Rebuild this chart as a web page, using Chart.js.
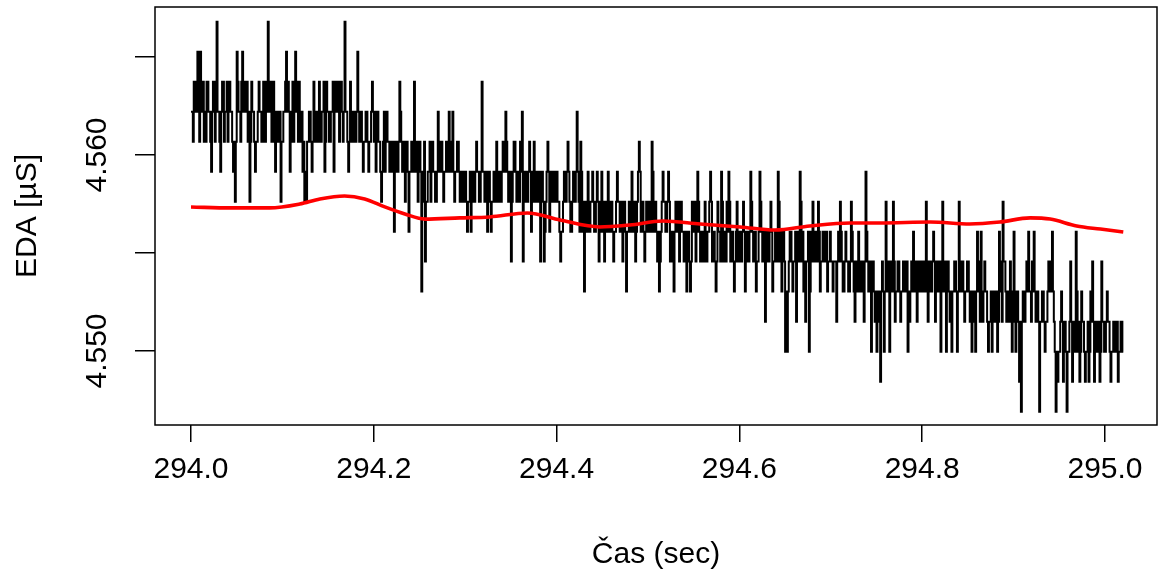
<!DOCTYPE html>
<html>
<head>
<meta charset="utf-8">
<script src="https://cdn.jsdelivr.net/npm/chart.js@4.4.1/dist/chart.umd.min.js"></script>
<style>
  html, body { margin: 0; padding: 0; background: #fff; }
</style>
</head>
<body>
<canvas id="eda" width="1159" height="575"></canvas>
<script>
// raw EDA signal: sampled at 1000 Hz from 294.0 s, values are the quantised sensor levels
const startTime = 294.0;
const sampleStep = 0.001;

// the distinct quantised EDA levels (µS), highest first
const levelValues = [4.56680, 4.56527, 4.56374, 4.56221, 4.56068, 4.55915, 4.55762,
                     4.55609, 4.55456, 4.55303, 4.55149, 4.54996, 4.54843, 4.54690];

// level index of each sample (20 samples per row)
const sampleLevels = [
  3,3,4,2,2,3,3,1,2,4, 1,3,3,2,4,3,4,2,2,3,
  3,4,5,3,2,2,4,3,0,3, 3,4,5,3,2,2,4,3,3,2,
  4,3,2,3,3,4,5,4,6,4, 1,2,3,3,4,2,1,3,2,3,
  3,2,4,3,6,4,2,3,3,4, 5,4,4,3,2,3,3,4,4,2,
  3,4,2,3,0,3,3,2,4,3, 2,4,5,3,3,4,4,3,6,4,
  4,3,3,2,1,3,2,3,5,4, 3,2,4,3,1,2,3,4,2,3,
  4,3,5,4,6,5,6,4,4,3, 3,4,5,4,2,3,4,3,3,4,
  2,3,4,3,3,2,5,4,2,3, 3,4,4,3,3,2,5,3,2,3,
  3,2,4,3,2,3,4,3,0,3, 3,4,5,4,2,3,4,3,3,4,
  4,3,1,3,4,3,3,4,5,4, 4,3,3,4,5,4,4,3,2,3,
  4,3,5,4,3,4,4,5,6,5, 4,3,5,4,3,4,4,5,5,4,
  5,4,7,5,4,5,5,4,2,3, 4,5,5,4,6,5,4,5,7,5,
  5,4,4,5,2,4,5,4,6,5, 4,5,9,6,5,4,8,6,6,5,
  5,4,6,5,4,5,5,6,6,5, 3,4,5,4,4,5,6,5,5,4,
  4,5,3,4,5,4,3,5,6,5, 5,4,4,5,6,5,5,6,6,5,
  5,6,7,6,6,5,7,6,5,6, 6,5,4,5,5,6,6,5,2,5,
  5,6,6,5,7,6,5,6,7,6, 6,5,5,6,4,5,6,5,5,6,
  5,4,4,5,3,4,5,6,6,5, 8,6,5,4,4,5,6,5,5,6,
  4,5,3,8,6,5,5,6,6,5, 4,5,7,6,5,4,6,5,5,6,
  6,5,8,6,5,6,8,7,6,5, 4,5,7,6,5,6,6,5,5,6,
  5,6,6,7,8,7,7,6,5,6, 6,5,4,5,6,7,7,6,5,6,
  6,5,3,5,6,7,4,5,7,6, 9,7,6,7,5,6,7,6,6,5,
  6,7,7,6,5,6,8,7,6,5, 7,6,8,7,6,7,5,6,7,6,
  6,7,8,7,7,6,5,6,6,7, 7,6,8,7,6,7,9,7,7,6,
  6,7,5,6,7,6,8,7,6,5, 4,5,7,6,6,7,8,7,6,7,
  7,6,6,7,4,5,7,6,6,7, 8,7,9,8,7,6,5,6,6,7,
  7,6,5,6,8,7,7,8,9,7, 6,7,7,6,8,7,6,7,7,8,
  8,7,9,8,7,8,9,8,6,7, 7,6,8,7,5,6,7,8,8,7,
  7,8,6,7,8,7,7,6,5,6, 8,7,7,8,9,8,6,7,7,8,
  5,6,8,7,7,8,6,7,5,6, 8,7,7,8,9,8,7,6,8,7,
  7,8,8,7,6,7,9,8,7,8, 8,7,5,6,7,8,8,7,9,8,
  8,7,5,6,7,8,8,7,10,8, 7,8,8,7,6,7,9,8,8,7,
  7,8,5,6,8,7,9,8,7,8, 11,9,11,9,8,7,7,8,9,8,
  8,7,10,8,7,8,5,6,8,7, 9,8,10,8,8,7,11,9,7,8,
  6,7,8,7,7,8,6,7,9,8, 8,7,7,8,8,7,9,8,8,7,
  8,8,9,8,8,8,10,8,7,8, 6,7,8,9,9,8,7,8,8,9,
  9,8,6,7,8,9,10,8,8,9, 7,8,9,8,8,9,10,8,5,7,
  8,9,9,8,11,9,8,9,10,9, 11,9,9,10,12,9,8,9,11,9,
  6,8,9,8,11,9,8,9,6,8, 10,9,9,8,8,9,10,9,9,8,
  8,9,9,8,11,9,10,9,8,9, 7,8,9,8,10,9,8,9,9,8,
  9,8,8,9,6,8,10,9,8,9, 9,8,7,8,10,9,8,9,9,8,
  11,9,6,8,9,8,11,9,8,9, 10,9,11,9,9,8,8,9,11,9,
  6,8,9,8,8,9,10,9,9,8, 8,9,10,9,11,10,9,10,11,9,
  7,8,9,10,7,9,10,9,8,9, 9,10,11,10,10,9,11,10,9,10,
  10,9,11,10,7,8,9,10,6,8, 8,9,10,9,9,10,8,9,11,10,
  7,9,11,10,9,10,12,10,13,10, 9,10,10,9,8,9,7,9,9,10,
  8,9,7,9,10,9,9,10,13,10, 10,9,9,10,11,10,10,9,8,9,
  8,9,7,9,10,11,13,11,12,11, 11,10,9,10,12,11,10,11,13,11,
  11,10,8,10,12,11,10,11,7,9, 11,10,12,11,9,10,10,11,12,11,
  11,10,12,11,9,10,8,10,12,11, 10,11,11,10,12,11,8,10,10,11,
  11,10,9,10,10,11,12,11,11,10, 10,11,11,10,12,11,11,10,10,11,
  11
];

// smoothed EDA (red curve)
const smoothTimes = [294.000, 294.043, 294.086, 294.119, 294.141, 294.168, 294.190, 294.212,
                     294.234, 294.256, 294.294, 294.327, 294.368, 294.404, 294.447, 294.480,
                     294.516, 294.557, 294.601, 294.639, 294.677, 294.721, 294.754, 294.809,
                     294.852, 294.885, 294.918, 294.940, 294.969, 294.995, 295.020];
const smoothValues = [4.55735, 4.55730, 4.55730, 4.55750, 4.55776, 4.55791, 4.55776, 4.55735,
                      4.55699, 4.55673, 4.55679, 4.55684, 4.55704, 4.55668, 4.55633, 4.55643,
                      4.55663, 4.55648, 4.55633, 4.55617, 4.55638, 4.55653, 4.55653, 4.55658,
                      4.55648, 4.55658, 4.55679, 4.55673, 4.55638, 4.55622, 4.55607];

const xTicks = [294.0, 294.2, 294.4, 294.6, 294.8, 295.0];
const yTicks = [4.550, 4.555, 4.560, 4.565];
const yTickLabels = ['4.550', '', '4.560', ''];

const rawPoints = sampleLevels.map((k, i) => ({ x: startTime + i * sampleStep, y: levelValues[k] }));
const smoothPoints = smoothTimes.map((t, i) => ({ x: t, y: smoothValues[i] }));

const FONT = '"Liberation Sans", Arial, sans-serif';

// R-style box and vertical y tick labels
const framePlugin = {
  id: 'frame',
  afterDraw(chart) {
    const { ctx, chartArea: a, scales: { y } } = chart;
    ctx.save();
    ctx.strokeStyle = '#000';
    ctx.lineWidth = 1.5;
    ctx.strokeRect(a.left, a.top, a.right - a.left, a.bottom - a.top);
    ctx.fillStyle = '#000';
    ctx.font = '30px ' + FONT;
    ctx.textAlign = 'center';
    ctx.textBaseline = 'middle';
    yTicks.forEach((v, i) => {
      if (!yTickLabels[i]) return;
      ctx.save();
      ctx.translate(98, y.getPixelForValue(v));
      ctx.rotate(-Math.PI / 2);
      ctx.fillText(yTickLabels[i], 0, 0);
      ctx.restore();
    });
    ctx.restore();
  }
};

new Chart(document.getElementById('eda'), {
  type: 'line',
  data: {
    datasets: [
      {
        data: smoothPoints,
        borderColor: '#ff0000',
        borderWidth: 3.6,
        pointRadius: 0,
        cubicInterpolationMode: 'monotone',
        order: 0
      },
      {
        data: rawPoints,
        borderColor: '#000',
        borderWidth: 2,
        pointRadius: 0,
        stepped: true,
        order: 1
      }
    ]
  },
  options: {
    responsive: false,
    animation: false,
    layout: { padding: { left: 0, top: 7, right: 2, bottom: 0 } },
    plugins: { legend: { display: false }, tooltip: { enabled: false } },
    scales: {
      x: {
        type: 'linear',
        min: 293.96061,
        max: 295.05689,
        afterBuildTicks: s => { s.ticks = xTicks.map(v => ({ value: v })); },
        afterFit: s => { s.height = 150; },
        border: { display: false },
        grid: { drawOnChartArea: false, tickLength: 17, color: '#000', lineWidth: 1.5 },
        ticks: {
          autoSkip: false, maxRotation: 0, padding: 10, color: '#000',
          font: { family: FONT, size: 30 },
          callback: v => v.toFixed(1)
        },
        title: {
          display: true, text: 'Čas (sec)', color: '#000',
          font: { family: FONT, size: 30 },
          padding: { top: 0, bottom: 2 }
        }
      },
      y: {
        min: 4.546224,
        max: 4.567551,
        afterBuildTicks: s => { s.ticks = yTicks.map(v => ({ value: v })); },
        afterFit: s => { s.width = 155; },
        border: { display: false },
        grid: { drawOnChartArea: false, tickLength: 20, color: '#000', lineWidth: 1.5 },
        ticks: { display: false },
        title: {
          display: true, text: 'EDA [µS]', color: '#000',
          font: { family: FONT, size: 30 },
          padding: { top: 10, bottom: 0 }
        }
      }
    }
  },
  plugins: [framePlugin]
});
</script>
</body>
</html>
